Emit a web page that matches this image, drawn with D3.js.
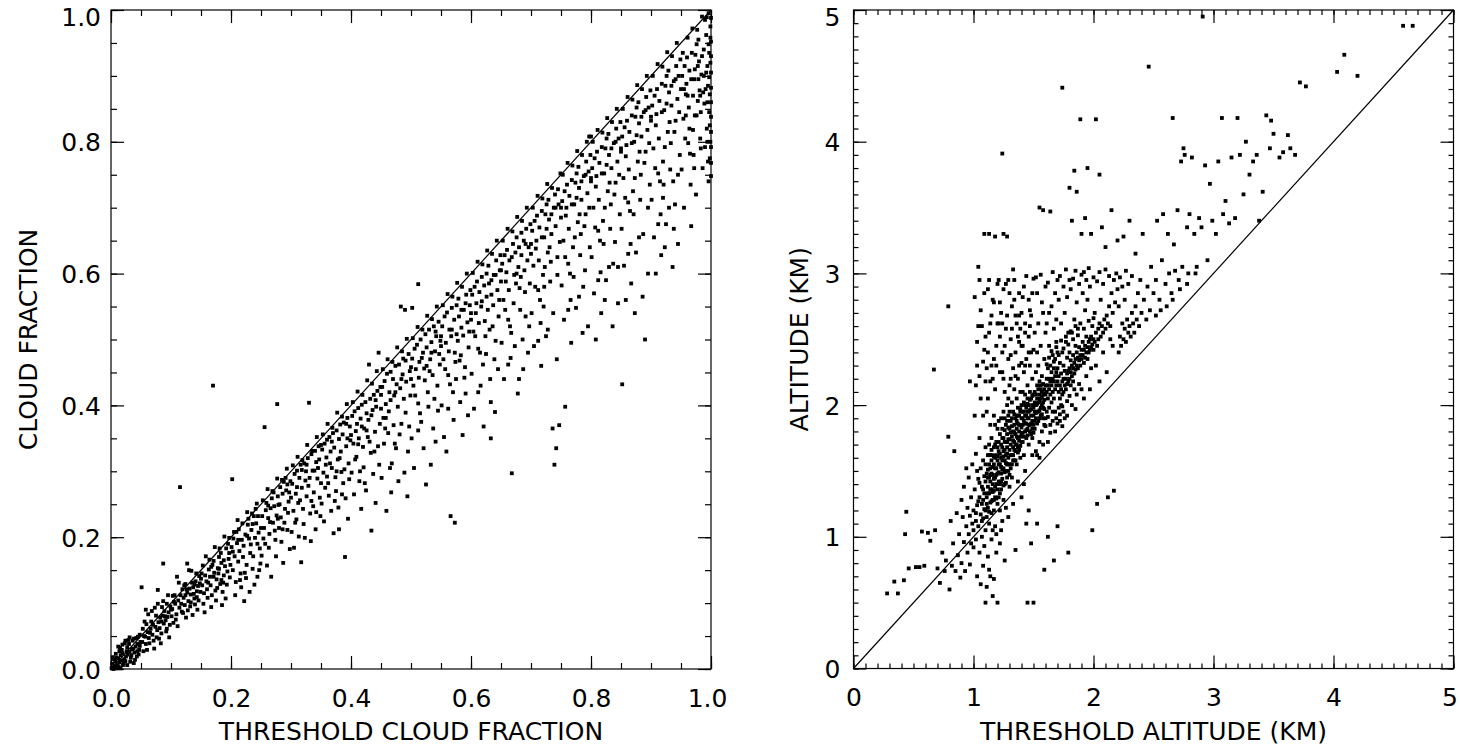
<!DOCTYPE html>
<html><head><meta charset="utf-8">
<script src="https://cdn.jsdelivr.net/npm/d3@7"></script>
<style>
body{margin:0;background:#fff}
svg{display:block}
text{font-family:"DejaVu Sans",sans-serif;fill:#000}
</style>
</head><body>
<svg id="chart" width="1460" height="749"></svg>
<script>
// ---------------- DATA ----------------
const leftTickValues = [0, 0.2, 0.4, 0.6, 0.8, 1.0];
const leftTickLabels = ["0.0", "0.2", "0.4", "0.6", "0.8", "1.0"];
const rightTickValues = [0, 1, 2, 3, 4, 5];
const rightTickLabels = ["0", "1", "2", "3", "4", "5"];
const leftXTitle = "THRESHOLD CLOUD FRACTION";
const leftYTitle = "CLOUD FRACTION";
const rightXTitle = "THRESHOLD ALTITUDE (KM)";
const rightYTitle = "ALTITUDE (KM)";

// left panel: [threshold cloud fraction, cloud fraction]
const leftPoints = [
[.003,.002],[.007,.011],[.004,.000],[.011,.006],[.009,.017],[.014,.010],[.002,.008],[.017,.013],[.013,.003],[.019,.024],[.006,.004],[.022,.015],[.016,.021],[.025,.019],[.012,.016],[.028,.022],[.021,.009],[.031,.026],[.018,.029],[.034,.021],[.027,.033],[.024,.012],[.037,.031],[.030,.038],[.033,.017],[.041,.034],[.036,.043],[.039,.025],[.044,.038],[.047,.029],[.042,.047],[.049,.041],[.046,.022],[.008,.023],[.015,.032],[.023,.039],[.029,.044],[.005,.015],[.010,.001],[.020,.006],[.026,.027],[.032,.011],[.038,.046],[.043,.019],[.048,.035],[.001,.001],[.014,.027],[.035,.030],[.040,.014],[.045,.049],[.003,.018],[.019,.037],[.027,.006],[.012,.034],[.024,.043],[.031,.048],[.016,.001],[.038,.009],[.044,.027],[.048,.052],
[.052,.041],[.057,.049],[.054,.027],[.061,.056],[.058,.038],[.063,.047],[.066,.061],[.059,.068],[.069,.052],[.071,.043],[.067,.072],[.074,.064],[.072,.031],[.077,.059],[.079,.071],[.076,.048],[.082,.078],[.081,.062],[.084,.054],[.086,.081],[.088,.069],[.083,.039],[.091,.074],[.089,.088],[.093,.061],[.096,.086],[.094,.079],[.098,.067],[.099,.095],[.097,.048],[.053,.061],[.056,.072],[.062,.083],[.068,.088],[.073,.093],[.078,.099],[.087,.103],[.095,.112],[.051,.124],[.064,.039],[.075,.081],[.085,.094],[.092,.057],[.055,.050],[.060,.029],[.070,.067],[.080,.046],[.090,.080],[.065,.055],[.087,.160],[.078,.120],[.093,.099],[.058,.090],[.084,.072],[.100,.090],
[.102,.091],[.104,.070],[.107,.099],[.103,.111],[.109,.083],[.112,.104],[.114,.093],[.111,.065],[.116,.112],[.118,.087],[.115,.276],[.121,.108],[.119,.121],[.123,.097],[.125,.078],[.127,.116],[.124,.129],[.129,.103],[.131,.122],[.128,.089],[.133,.113],[.135,.131],[.132,.095],[.137,.124],[.139,.107],[.136,.082],[.141,.133],[.143,.118],[.140,.098],[.145,.126],[.147,.141],[.144,.090],[.149,.117],[.146,.104],[.106,.112],[.113,.131],[.122,.127],[.134,.149],[.142,.145],[.148,.130],[.108,.075],[.117,.099],[.126,.121],[.138,.114],[.150,.137],[.105,.102],[.120,.085],[.130,.150],[.110,.140],[.127,.160],[.143,.109],[.101,.080],[.124,.112],[.139,.128],[.133,.101],
[.152,.127],[.154,.099],[.157,.142],[.155,.115],[.159,.133],[.161,.108],[.163,.151],[.160,.121],[.165,.140],[.167,.094],[.169,.158],[.166,.127],[.170,.430],[.172,.146],[.174,.119],[.171,.164],[.176,.136],[.178,.153],[.175,.104],[.180,.170],[.182,.129],[.179,.145],[.184,.161],[.186,.117],[.183,.176],[.188,.142],[.190,.156],[.187,.131],[.192,.183],[.194,.148],[.191,.107],[.196,.167],[.198,.139],[.195,.190],[.199,.158],[.153,.157],[.158,.171],[.164,.166],[.173,.185],[.181,.183],[.189,.201],[.197,.199],[.156,.086],[.168,.112],[.177,.123],[.185,.097],[.193,.128],[.162,.131],[.171,.140],[.180,.152],[.188,.165],[.197,.176],[.151,.145],[.167,.155],[.184,.135],
[.201,.185],[.203,.150],[.202,.288],[.206,.171],[.204,.198],[.208,.132],[.210,.191],[.212,.163],[.209,.208],[.214,.179],[.216,.145],[.213,.212],[.218,.196],[.220,.170],[.217,.124],[.222,.103],[.224,.204],[.221,.187],[.226,.158],[.228,.219],[.225,.138],[.230,.198],[.232,.176],[.229,.228],[.234,.211],[.236,.152],[.233,.189],[.238,.232],[.240,.199],[.237,.171],[.242,.221],[.244,.140],[.241,.243],[.246,.207],[.248,.183],[.245,.232],[.249,.160],[.205,.208],[.211,.226],[.219,.221],[.227,.238],[.235,.236],[.243,.251],[.207,.112],[.215,.135],[.223,.146],[.231,.117],[.239,.128],[.247,.150],[.203,.178],[.212,.196],[.227,.202],[.236,.220],[.244,.190],[.250,.214],
[.252,.232],[.254,.198],[.251,.172],[.256,.367],[.258,.241],[.255,.214],[.260,.157],[.262,.229],[.259,.252],[.264,.205],[.266,.244],[.263,.184],[.268,.259],[.270,.222],[.267,.140],[.272,.247],[.274,.196],[.271,.268],[.276,.233],[.277,.402],[.278,.262],[.275,.171],[.280,.214],[.282,.276],[.279,.249],[.284,.193],[.286,.266],[.283,.230],[.288,.284],[.290,.243],[.287,.161],[.292,.271],[.294,.211],[.291,.290],[.296,.254],[.298,.182],[.295,.237],[.299,.285],[.253,.256],[.261,.273],[.269,.270],[.277,.289],[.285,.287],[.293,.304],[.257,.190],[.265,.223],[.273,.210],[.281,.250],[.289,.222],[.297,.268],[.262,.248],[.278,.228],[.286,.212],[.294,.280],[.300,.260],
[.302,.281],[.304,.240],[.301,.208],[.306,.296],[.308,.266],[.305,.184],[.310,.301],[.312,.252],[.309,.227],[.314,.290],[.316,.310],[.313,.201],[.318,.275],[.320,.243],[.317,.162],[.322,.312],[.324,.286],[.321,.220],[.326,.262],[.328,.320],[.325,.300],[.330,.404],[.332,.236],[.329,.278],[.334,.326],[.336,.301],[.333,.194],[.338,.268],[.340,.331],[.337,.247],[.342,.314],[.344,.289],[.341,.212],[.346,.338],[.348,.260],[.345,.305],[.349,.232],[.303,.309],[.311,.322],[.319,.317],[.327,.340],[.335,.331],[.343,.352],[.307,.222],[.315,.256],[.323,.199],[.331,.290],[.339,.301],[.347,.318],[.350,.282],[.318,.302],[.334,.255],[.342,.238],[.326,.310],[.310,.276],
[.352,.333],[.354,.298],[.351,.251],[.356,.342],[.358,.310],[.355,.224],[.360,.348],[.362,.282],[.359,.321],[.364,.352],[.366,.330],[.363,.263],[.368,.305],[.370,.358],[.367,.240],[.372,.336],[.374,.291],[.371,.206],[.376,.362],[.378,.318],[.375,.270],[.380,.349],[.382,.371],[.379,.245],[.384,.299],[.386,.356],[.383,.330],[.388,.374],[.390,.170],[.387,.282],[.392,.338],[.394,.381],[.391,.259],[.396,.312],[.398,.368],[.395,.228],[.399,.347],[.353,.356],[.361,.372],[.369,.366],[.377,.389],[.385,.383],[.393,.402],[.357,.275],[.365,.312],[.373,.255],[.381,.320],[.389,.303],[.397,.288],[.360,.292],[.376,.300],[.385,.265],[.394,.350],[.368,.345],[.380,.212],[.350,.340],[.392,.372],
[.402,.384],[.404,.342],[.401,.298],[.406,.391],[.408,.361],[.405,.265],[.410,.372],[.412,.396],[.409,.322],[.414,.285],[.416,.380],[.413,.350],[.418,.401],[.420,.337],[.417,.243],[.422,.365],[.424,.405],[.421,.306],[.426,.388],[.428,.352],[.425,.271],[.430,.462],[.432,.410],[.429,.378],[.434,.210],[.436,.393],[.433,.328],[.438,.416],[.440,.360],[.437,.296],[.442,.398],[.444,.422],[.441,.252],[.446,.480],[.448,.372],[.445,.338],[.449,.428],[.403,.405],[.411,.421],[.419,.416],[.427,.438],[.435,.433],[.443,.452],[.407,.318],[.415,.300],[.423,.282],[.431,.345],[.439,.330],[.447,.310],[.400,.355],[.426,.362],[.418,.368],[.434,.385],[.441,.408],[.450,.395],[.412,.341],
[.452,.428],[.454,.381],[.451,.290],[.456,.437],[.458,.402],[.455,.342],[.460,.448],[.462,.358],[.459,.240],[.464,.420],[.466,.451],[.463,.391],[.468,.312],[.470,.440],[.467,.268],[.472,.415],[.474,.460],[.471,.370],[.476,.432],[.478,.398],[.475,.335],[.480,.462],[.482,.426],[.479,.285],[.483,.550],[.486,.447],[.484,.372],[.488,.410],[.490,.545],[.487,.471],[.492,.436],[.494,.262],[.491,.389],[.496,.478],[.498,.452],[.495,.330],[.499,.415],[.453,.455],[.461,.470],[.469,.466],[.477,.488],[.485,.482],[.493,.501],[.457,.365],[.465,.305],[.473,.342],[.481,.356],[.489,.298],[.497,.368],[.450,.416],[.474,.420],[.466,.408],[.484,.440],[.491,.468],[.500,.440],[.458,.381],[.502,.548],[.512,.584],
[.502,.471],[.504,.430],[.501,.350],[.506,.486],[.508,.455],[.505,.305],[.510,.492],[.512,.403],[.514,.466],[.516,.500],[.513,.442],[.520,.480],[.517,.375],[.522,.456],[.524,.508],[.521,.335],[.526,.488],[.528,.420],[.525,.280],[.530,.515],[.532,.470],[.529,.398],[.534,.496],[.536,.446],[.533,.310],[.538,.520],[.540,.482],[.537,.365],[.542,.505],[.544,.430],[.541,.345],[.546,.527],[.548,.462],[.545,.392],[.549,.498],[.503,.502],[.511,.519],[.519,.515],[.527,.536],[.535,.531],[.543,.550],[.507,.415],[.515,.388],[.523,.438],[.531,.452],[.539,.410],[.547,.478],[.500,.458],[.526,.460],[.518,.472],[.534,.480],[.541,.512],[.550,.505],[.512,.362],
[.552,.520],[.554,.470],[.551,.400],[.556,.535],[.558,.495],[.555,.352],[.560,.541],[.562,.446],[.559,.330],[.564,.515],[.566,.232],[.563,.482],[.568,.548],[.570,.420],[.567,.505],[.572,.530],[.574,.466],[.571,.378],[.573,.222],[.576,.552],[.578,.498],[.575,.440],[.580,.535],[.582,.405],[.579,.562],[.584,.518],[.586,.355],[.583,.476],[.588,.545],[.590,.458],[.587,.506],[.592,.568],[.594,.526],[.591,.418],[.596,.488],[.598,.552],[.595,.385],[.599,.575],[.553,.552],[.561,.569],[.569,.565],[.577,.586],[.585,.580],[.593,.600],[.557,.455],[.565,.432],[.573,.480],[.581,.468],[.589,.442],[.597,.512],[.550,.490],[.576,.508],[.568,.515],[.584,.545],[.591,.555],[.600,.540],[.562,.395],
[.602,.568],[.604,.512],[.601,.448],[.606,.580],[.608,.540],[.605,.395],[.610,.588],[.612,.486],[.609,.555],[.614,.572],[.616,.430],[.613,.525],[.618,.595],[.620,.462],[.617,.550],[.622,.582],[.624,.505],[.621,.368],[.626,.600],[.628,.545],[.625,.478],[.630,.585],[.632,.440],[.629,.612],[.634,.568],[.636,.520],[.633,.405],[.638,.598],[.640,.390],[.637,.552],[.642,.620],[.644,.575],[.641,.498],[.646,.535],[.648,.605],[.645,.455],[.649,.628],[.603,.601],[.611,.618],[.619,.614],[.627,.635],[.635,.630],[.643,.650],[.607,.505],[.615,.480],[.623,.528],[.631,.515],[.639,.470],[.647,.560],[.600,.530],[.626,.565],[.618,.558],[.634,.590],[.641,.598],[.650,.588],[.612,.420],[.633,.350],
[.652,.615],[.654,.560],[.651,.495],[.656,.628],[.658,.588],[.655,.440],[.660,.636],[.662,.530],[.659,.602],[.664,.620],[.666,.472],[.663,.575],[.668,.297],[.670,.645],[.667,.510],[.672,.598],[.674,.632],[.671,.555],[.676,.655],[.678,.418],[.675,.585],[.680,.640],[.682,.545],[.679,.610],[.684,.662],[.686,.500],[.683,.595],[.688,.650],[.690,.572],[.687,.455],[.692,.668],[.694,.620],[.691,.535],[.696,.640],[.698,.585],[.695,.480],[.699,.675],[.653,.650],[.661,.668],[.669,.664],[.677,.686],[.685,.680],[.693,.700],[.657,.545],[.665,.520],[.673,.490],[.681,.578],[.689,.605],[.697,.520],[.650,.605],[.676,.600],[.668,.625],[.684,.628],[.691,.645],[.700,.630],[.662,.462],[.680,.440],
[.702,.665],[.704,.612],[.701,.540],[.706,.680],[.708,.638],[.705,.490],[.710,.688],[.712,.575],[.709,.650],[.714,.670],[.716,.525],[.713,.620],[.718,.695],[.720,.598],[.717,.460],[.722,.655],[.724,.690],[.721,.550],[.726,.705],[.728,.632],[.725,.505],[.730,.682],[.732,.588],[.729,.712],[.734,.660],[.736,.365],[.733,.618],[.738,.700],[.739,.310],[.737,.540],[.742,.335],[.740,.720],[.741,.672],[.744,.598],[.746,.705],[.743,.470],[.747,.370],[.748,.648],[.745,.728],[.703,.700],[.711,.718],[.719,.714],[.727,.736],[.735,.730],[.749,.752],[.707,.580],[.715,.560],[.723,.610],[.731,.640],[.744,.625],[.700,.645],[.726,.668],[.718,.655],[.734,.690],[.741,.700],[.750,.685],[.712,.498],[.728,.515],[.757,.398],[.722,.580],
[.752,.710],[.754,.650],[.751,.582],[.756,.725],[.758,.688],[.755,.530],[.760,.735],[.762,.615],[.759,.700],[.764,.718],[.766,.560],[.763,.668],[.768,.742],[.770,.640],[.767,.495],[.772,.705],[.774,.738],[.771,.595],[.776,.752],[.778,.678],[.775,.548],[.780,.730],[.782,.628],[.779,.762],[.784,.712],[.786,.510],[.783,.660],[.788,.748],[.790,.605],[.787,.580],[.792,.770],[.794,.722],[.791,.690],[.796,.755],[.798,.640],[.795,.520],[.799,.780],[.753,.750],[.761,.768],[.769,.764],[.777,.786],[.785,.780],[.793,.800],[.757,.625],[.765,.600],[.773,.655],[.781,.690],[.789,.672],[.797,.700],[.750,.700],[.776,.715],[.768,.705],[.784,.740],[.791,.750],[.800,.740],[.762,.545],[.780,.565],[.800,.808],[.797,.808],
[.802,.760],[.804,.700],[.801,.625],[.806,.775],[.808,.732],[.805,.570],[.810,.785],[.812,.665],[.809,.748],[.814,.768],[.816,.602],[.813,.712],[.818,.792],[.820,.680],[.817,.540],[.822,.752],[.824,.790],[.821,.645],[.826,.805],[.828,.725],[.825,.590],[.830,.780],[.832,.668],[.829,.812],[.834,.760],[.836,.520],[.833,.705],[.838,.798],[.840,.648],[.837,.615],[.842,.820],[.844,.770],[.841,.738],[.846,.805],[.848,.690],[.845,.555],[.849,.830],[.803,.800],[.811,.818],[.819,.814],[.827,.836],[.835,.830],[.843,.850],[.807,.670],[.815,.650],[.823,.700],[.831,.738],[.839,.720],[.847,.750],[.800,.745],[.826,.765],[.818,.752],[.834,.790],[.841,.800],[.850,.785],[.812,.590],[.830,.610],[.852,.432],[.823,.560],[.845,.610],[.808,.500],
[.852,.808],[.854,.745],[.851,.668],[.856,.822],[.858,.778],[.855,.612],[.860,.832],[.862,.708],[.859,.795],[.864,.815],[.866,.645],[.863,.758],[.868,.840],[.870,.725],[.867,.585],[.872,.800],[.874,.838],[.871,.690],[.876,.852],[.878,.770],[.875,.632],[.880,.828],[.882,.712],[.879,.860],[.884,.808],[.886,.565],[.883,.750],[.888,.845],[.890,.500],[.887,.660],[.892,.868],[.894,.818],[.891,.785],[.896,.852],[.898,.735],[.895,.600],[.899,.878],[.853,.850],[.861,.868],[.869,.864],[.877,.886],[.885,.880],[.893,.900],[.857,.715],[.865,.695],[.873,.745],[.881,.785],[.889,.768],[.897,.798],[.850,.790],[.876,.810],[.868,.798],[.884,.838],[.891,.848],[.900,.832],[.862,.630],[.880,.655],[.873,.540],[.895,.700],[.858,.560],
[.902,.855],[.904,.790],[.901,.712],[.906,.870],[.908,.825],[.905,.655],[.910,.880],[.912,.752],[.909,.842],[.914,.862],[.916,.690],[.913,.805],[.918,.888],[.920,.770],[.917,.628],[.922,.848],[.924,.885],[.921,.735],[.926,.900],[.928,.815],[.925,.675],[.930,.875],[.932,.758],[.929,.908],[.934,.855],[.936,.610],[.933,.798],[.938,.892],[.940,.705],[.937,.740],[.942,.915],[.944,.865],[.941,.832],[.946,.900],[.948,.780],[.945,.645],[.949,.925],[.903,.900],[.911,.918],[.919,.914],[.927,.936],[.935,.930],[.943,.950],[.907,.760],[.915,.740],[.923,.792],[.931,.830],[.939,.815],[.947,.845],[.900,.838],[.926,.858],[.918,.845],[.934,.885],[.941,.895],[.950,.880],[.912,.675],[.930,.700],[.923,.640],[.945,.750],[.908,.600],[.938,.668],[.920,.715],
[.952,.900],[.954,.835],[.951,.758],[.956,.915],[.958,.872],[.955,.700],[.960,.928],[.962,.798],[.959,.888],[.964,.908],[.966,.735],[.963,.852],[.968,.935],[.970,.818],[.967,.672],[.972,.895],[.974,.932],[.971,.780],[.976,.948],[.978,.862],[.975,.720],[.980,.922],[.982,.805],[.979,.955],[.984,.902],[.986,.760],[.983,.845],[.988,.940],[.990,.792],[.987,.875],[.992,.962],[.994,.915],[.991,.880],[.996,.948],[.998,.825],[.995,.770],[.999,.975],[.953,.935],[.961,.958],[.969,.972],[.977,.970],[.985,.990],[.993,.989],[.957,.805],[.965,.782],[.973,.840],[.981,.878],[.989,.858],[.997,.898],[1.0,.988],[1.0,.952],[1.0,.930],[1.0,.905],[1.0,.882],[1.0,.860],[1.0,.838],[1.0,.815],[1.0,.792],[1.0,.768],[1.0,.748],[.999,.920],[.998,.872],[.997,.845],[.999,.800],[.998,.775],[.996,.995],[.994,.860],[.993,.820],[.997,.935],[.995,.885],[.992,.905],[.999,.958],[.996,.740],[.990,.985],[.988,.900],[.985,.930],[.982,.870],[.979,.895],[.976,.840],[.973,.910],[.970,.870],[.967,.895],[.964,.820],[.961,.870],[.958,.840],[.955,.880],[.972,.760],[.983,.790],[.994,.800],[.978,.915]
];

// right panel: [threshold altitude km, altitude km]
const rightPoints = [
[0.28,0.57],[0.34,0.66],[0.37,0.57],[0.42,0.67],[0.44,1.19],[0.43,1.02],[0.52,0.77],[0.55,0.77],[0.59,0.78],[0.46,0.76],[0.57,1.04],[0.62,1.03],
[0.64,0.97],[0.67,2.27],[0.68,1.05],[0.70,0.76],[0.72,0.65],[0.74,0.88],[0.76,0.74],[0.77,0.82],[0.79,2.75],[0.79,1.76],[0.80,0.60],[0.81,1.12],[0.82,0.78],[0.83,0.95],[0.84,1.65],[0.85,0.74],[0.86,1.18],[0.87,0.86],[0.88,1.02],[0.89,0.69],[0.90,1.28],
[0.90,0.80],[0.91,1.15],[0.92,0.96],[0.92,1.38],[0.93,0.74],[0.94,1.08],[0.95,1.22],[0.95,0.88],[0.96,1.45],[0.96,1.02],[0.97,1.16],[0.97,0.79],[0.98,1.30],[0.98,0.95],[0.99,1.10],[0.99,1.55],[1.00,0.92],[1.00,1.20],[0.94,1.52],[0.97,2.18],
[1.00,1.05],[1.01,1.36],[1.01,2.82],[1.02,1.12],[1.02,0.98],[1.02,1.63],[1.03,1.24],[1.03,0.70],[1.03,2.30],[1.04,1.44],[1.04,1.08],[1.04,3.05],[1.05,1.30],[1.05,0.88],[1.05,1.75],[1.06,1.17],[1.06,1.52],[1.06,2.05],[1.07,1.38],[1.07,1.00],[1.07,2.60],[1.07,1.25],[1.08,1.58],[1.08,1.14],[1.08,0.78],[1.08,1.92],[1.09,1.33],[1.09,1.46],[1.09,2.42],[1.10,1.20],[1.10,1.68],[1.10,0.50],[1.10,1.05],[1.10,2.18],[1.01,1.92],[1.04,2.60],[1.06,0.64],[1.09,0.93],[1.03,1.50],[1.05,2.95],[1.08,1.28],[1.02,2.15],[1.10,1.55],[1.09,3.30],
[1.11,1.30],[1.11,1.48],[1.11,1.15],[1.11,0.62],[1.12,1.38],[1.12,1.62],[1.12,1.22],[1.12,2.05],[1.12,0.85],[1.13,1.45],[1.13,1.10],[1.13,1.70],[1.13,3.30],[1.13,1.33],[1.13,2.55],[1.14,1.52],[1.14,1.26],[1.14,1.85],[1.14,0.70],[1.14,1.42],[1.15,1.58],[1.15,1.18],[1.15,1.36],[1.15,2.30],[1.15,0.98],[1.15,1.75],[1.16,1.47],[1.16,1.28],[1.16,1.62],[1.16,2.80],[1.16,0.55],[1.17,1.55],[1.17,1.35],[1.17,1.92],[1.17,1.20],[1.17,1.68],[1.18,1.45],[1.18,1.60],[1.18,1.08],[1.18,2.12],[1.18,3.28],[1.18,1.30],[1.19,1.52],[1.19,1.72],[1.19,1.40],[1.19,2.45],[1.19,0.88],[1.20,1.58],[1.20,1.25],[1.20,1.82],[1.20,0.50],[1.20,1.48],[1.20,2.62],[1.11,1.95],[1.12,2.88],[1.14,2.18],[1.16,1.05],[1.17,2.35],[1.19,1.02],[1.13,1.55],[1.15,1.48],[1.16,1.40],[1.18,1.70],[1.19,1.62],[1.12,1.45],[1.14,1.62],[1.17,1.28],[1.18,1.85],[1.20,1.68],[1.11,2.28],[1.13,0.75],[1.15,2.68],[1.17,0.68],
[1.21,1.42],[1.21,1.65],[1.21,1.30],[1.21,2.95],[1.22,1.55],[1.22,1.78],[1.22,1.20],[1.22,2.25],[1.22,0.95],[1.23,1.48],[1.23,1.70],[1.23,1.36],[1.23,2.70],[1.23,1.90],[1.24,3.91],[1.24,1.58],[1.24,1.82],[1.24,1.44],[1.24,2.40],[1.24,1.12],[1.25,1.65],[1.25,1.52],[1.25,1.95],[1.25,3.30],[1.25,1.28],[1.26,1.72],[1.26,1.58],[1.26,2.10],[1.26,1.40],[1.26,0.82],[1.27,1.62],[1.27,1.85],[1.27,1.50],[1.27,2.58],[1.27,1.22],[1.28,1.68],[1.28,1.78],[1.28,2.00],[1.28,3.28],[1.28,1.45],[1.29,1.60],[1.29,1.92],[1.29,1.74],[1.29,2.35],[1.29,1.15],[1.30,1.66],[1.30,1.82],[1.30,1.55],[1.30,2.85],[1.30,2.15],[1.21,1.88],[1.22,2.52],[1.23,1.05],[1.24,1.68],[1.25,2.20],[1.26,1.90],[1.27,1.72],[1.28,1.55],[1.29,2.05],[1.30,1.38],[1.21,1.55],[1.23,1.60],[1.25,1.75],[1.26,1.66],[1.28,1.88],[1.29,1.50],[1.30,1.95],[1.22,1.40],[1.24,2.62],[1.27,2.92],
[1.31,1.70],[1.31,1.88],[1.31,1.52],[1.31,2.50],[1.32,1.76],[1.32,1.62],[1.32,2.02],[1.32,1.45],[1.32,2.75],[1.33,1.80],[1.33,1.68],[1.33,1.95],[1.33,1.25],[1.33,2.28],[1.34,1.72],[1.34,1.85],[1.34,1.58],[1.34,2.12],[1.34,2.95],[1.35,1.78],[1.35,1.90],[1.35,1.65],[1.35,2.40],[1.35,0.90],[1.36,1.82],[1.36,1.70],[1.36,2.05],[1.36,1.55],[1.36,2.62],[1.37,1.86],[1.37,1.75],[1.37,1.98],[1.37,2.20],[1.37,1.42],[1.38,1.80],[1.38,1.92],[1.38,1.66],[1.38,2.48],[1.38,2.85],[1.39,1.85],[1.39,1.76],[1.39,2.10],[1.39,1.60],[1.40,1.90],[1.40,1.78],[1.40,2.00],[1.40,2.32],[1.40,1.30],[1.31,2.20],[1.33,1.58],[1.35,2.68],[1.36,1.92],[1.38,2.30],[1.39,1.95],[1.32,1.90],[1.34,1.66],[1.37,1.68],[1.40,2.70],[1.33,3.03],[1.39,2.58],
[1.41,1.85],[1.41,1.95],[1.41,1.72],[1.41,2.45],[1.42,1.88],[1.42,2.02],[1.42,1.62],[1.42,2.25],[1.42,2.90],[1.43,1.92],[1.43,1.80],[1.43,2.08],[1.43,1.50],[1.43,2.62],[1.44,1.86],[1.44,1.98],[1.44,1.75],[1.44,2.35],[1.44,1.10],[1.45,1.95],[1.45,2.05],[1.45,1.82],[1.45,2.15],[1.45,0.50],[1.46,1.90],[1.46,2.00],[1.46,1.70],[1.46,2.52],[1.46,2.80],[1.47,1.96],[1.47,1.85],[1.47,2.10],[1.47,2.30],[1.48,1.92],[1.48,2.05],[1.48,1.78],[1.48,2.68],[1.48,0.95],[1.49,2.00],[1.49,1.88],[1.49,2.20],[1.49,1.62],[1.50,1.98],[1.50,2.08],[1.50,1.85],[1.50,0.50],[1.50,2.42],[1.50,2.96],[1.41,2.10],[1.43,2.30],[1.45,1.90],[1.47,2.72],[1.49,1.75],[1.42,1.40],[1.46,1.20],[1.48,2.40],
[1.51,1.95],[1.51,2.10],[1.51,1.82],[1.51,2.55],[1.52,2.00],[1.52,1.90],[1.52,2.25],[1.52,1.65],[1.53,2.05],[1.53,1.95],[1.53,2.15],[1.53,2.85],[1.53,1.10],[1.54,2.02],[1.54,1.88],[1.54,2.30],[1.54,2.62],[1.55,2.08],[1.55,1.96],[1.55,2.18],[1.55,3.50],[1.55,1.72],[1.56,2.05],[1.56,2.12],[1.56,1.92],[1.56,2.45],[1.56,2.99],[1.57,2.10],[1.57,2.00],[1.57,2.22],[1.57,1.80],[1.58,2.08],[1.58,2.16],[1.58,1.98],[1.58,2.70],[1.58,3.48],[1.59,2.12],[1.59,2.04],[1.59,2.35],[1.59,0.75],[1.60,2.15],[1.60,2.08],[1.60,1.90],[1.60,2.55],[1.60,2.90],[1.53,2.40],[1.55,1.60],[1.57,2.78],[1.59,1.85],[1.52,2.97],
[1.61,2.10],[1.61,2.20],[1.61,1.95],[1.61,2.62],[1.62,2.15],[1.62,2.05],[1.62,2.28],[1.62,2.93],[1.62,1.00],[1.63,2.12],[1.63,2.20],[1.63,1.98],[1.63,2.45],[1.64,2.18],[1.64,2.08],[1.64,2.30],[1.64,3.47],[1.64,1.85],[1.65,2.15],[1.65,2.25],[1.65,2.02],[1.65,2.75],[1.66,2.20],[1.66,2.10],[1.66,2.38],[1.66,3.01],[1.67,2.18],[1.67,2.28],[1.67,2.05],[1.67,2.58],[1.67,0.82],[1.68,2.22],[1.68,2.12],[1.68,2.35],[1.68,2.85],[1.69,2.25],[1.69,2.15],[1.69,2.48],[1.69,1.90],[1.70,2.28],[1.70,2.18],[1.70,2.40],[1.70,2.95],[1.70,1.08],[1.63,2.70],[1.66,1.95],[1.69,2.65],
[1.71,2.10],[1.71,2.22],[1.71,1.98],[1.71,2.80],[1.72,2.15],[1.72,2.05],[1.72,2.32],[1.72,2.98],[1.73,2.12],[1.73,2.24],[1.73,2.00],[1.73,2.62],[1.74,2.18],[1.74,2.08],[1.74,2.40],[1.74,4.41],[1.75,2.20],[1.75,2.10],[1.75,2.30],[1.75,2.90],[1.75,1.95],[1.76,2.15],[1.76,2.26],[1.76,2.70],[1.77,2.20],[1.77,2.12],[1.77,2.48],[1.77,3.03],[1.78,2.24],[1.78,2.16],[1.78,2.36],[1.78,2.82],[1.79,2.26],[1.79,2.18],[1.79,2.55],[1.79,0.88],[1.80,2.28],[1.80,2.20],[1.80,2.40],[1.80,2.95],[1.80,3.65],[1.72,1.88],
[1.81,2.25],[1.81,2.34],[1.81,2.15],[1.81,2.88],[1.82,2.30],[1.82,2.22],[1.82,2.55],[1.82,3.40],[1.83,2.28],[1.83,2.38],[1.83,2.18],[1.83,2.96],[1.84,2.32],[1.84,2.24],[1.84,2.65],[1.84,3.78],[1.85,2.35],[1.85,2.27],[1.85,2.45],[1.85,3.02],[1.86,2.30],[1.86,2.40],[1.86,2.78],[1.86,3.62],[1.87,2.36],[1.87,2.28],[1.87,2.58],[1.88,2.34],[1.88,2.44],[1.88,2.92],[1.89,4.17],[1.89,2.38],[1.89,2.30],[1.90,2.42],[1.90,2.35],[1.90,2.99],[1.90,3.30],
[1.91,2.38],[1.91,2.48],[1.91,2.85],[1.92,2.42],[1.92,2.32],[1.92,3.01],[1.93,2.45],[1.93,2.36],[1.93,2.72],[1.93,3.42],[1.94,2.40],[1.94,2.52],[1.94,2.95],[1.95,2.44],[1.95,2.35],[1.95,2.80],[1.95,3.80],[1.96,2.48],[1.96,2.40],[1.96,3.04],[1.97,2.50],[1.97,2.42],[1.97,2.90],[1.98,2.52],[1.98,2.44],[1.98,3.30],[1.99,2.46],[1.99,2.60],[1.99,1.05],[2.00,2.50],[2.00,2.42],[2.00,2.97],
[2.01,2.48],[2.01,2.70],[2.02,4.17],[2.02,2.55],[2.03,2.45],[2.03,2.94],[2.03,1.25],[2.04,2.58],[2.04,2.50],[2.05,3.75],[2.05,2.62],[2.05,3.01],[2.06,2.52],[2.06,2.80],[2.07,2.60],[2.07,3.35],[2.08,2.55],[2.08,2.92],[2.09,2.65],[2.10,2.58],[2.10,3.03],[2.10,3.20],[2.11,2.68],[2.12,2.62],[2.12,1.30],[2.13,2.75],[2.13,2.98],[2.14,2.60],[2.15,2.85],[2.15,3.48],[2.16,2.70],[2.17,2.95],[2.17,1.35],[2.18,2.78],[2.19,3.00],[2.20,2.88],[2.20,3.25],[2.16,2.45],[2.08,2.40],[2.14,2.50],
[2.21,2.40],[2.21,2.75],[2.22,2.52],[2.22,2.97],[2.23,2.45],[2.24,2.62],[2.24,2.90],[2.25,2.50],[2.25,3.28],[2.26,2.58],[2.26,2.80],[2.27,2.48],[2.27,3.02],[2.28,2.65],[2.29,2.55],[2.29,2.92],[2.30,2.60],[2.30,3.40],[2.31,2.52],[2.32,2.70],[2.32,2.98],[2.33,2.62],[2.34,2.55],[2.35,2.75],[2.35,3.15],[2.36,2.65],[2.37,2.85],[2.38,2.60],[2.39,2.95],[2.40,2.70],[2.41,3.30],[2.42,2.80],[2.44,2.65],[2.45,2.90],[2.46,4.57],[2.47,2.72],[2.48,3.05],[2.50,2.85],
[2.52,2.95],[2.53,3.40],[2.55,2.80],[2.57,3.10],[2.58,3.45],[2.60,2.92],[2.62,3.30],[2.63,3.00],[2.65,2.85],[2.66,4.18],[2.67,3.22],[2.68,3.02],[2.70,3.48],[2.71,2.95],[2.73,3.85],[2.74,3.05],[2.75,3.95],[2.76,3.90],[2.78,3.35],[2.79,3.00],[2.80,3.45],[2.82,3.88],[2.84,3.30],[2.86,3.05],[2.88,3.42],[2.90,3.35],[2.91,4.95],[2.93,3.82],[2.95,3.10],[2.97,3.68],[2.99,3.40],
[2.52,2.68],[2.56,2.72],[2.61,2.75],[2.66,2.80],[2.72,2.88],[2.78,2.92],[2.85,3.00],
[3.02,3.30],[3.04,3.85],[3.07,4.18],[3.08,3.45],[3.10,3.55],[3.13,3.38],[3.15,3.88],[3.18,3.42],[3.20,4.18],[3.22,3.90],[3.25,3.60],[3.27,4.00],[3.30,3.75],[3.33,3.85],[3.36,3.90],[3.38,3.40],[3.41,3.62],[3.44,4.20],[3.47,3.95],[3.50,4.06],[3.48,4.16],
[3.55,3.88],[3.58,3.92],[3.62,4.05],[3.64,3.95],[3.68,3.90],[3.72,4.45],[3.77,4.42],
[4.03,4.53],[4.09,4.66],[4.20,4.50],[4.58,4.88],[4.66,4.88],
[1.02,1.18],[1.04,1.27],[1.05,1.41],[1.07,1.12],[1.08,1.36],[1.09,1.21],[1.10,1.42],[1.11,1.25],[1.12,1.51],[1.12,1.33],[1.13,1.19],[1.13,1.62],[1.14,1.36],[1.14,1.47],[1.15,1.27],[1.15,1.66],[1.16,1.53],[1.16,1.34],[1.17,1.44],[1.17,1.61],[1.18,1.38],[1.18,1.52],[1.19,1.29],[1.19,1.47],[1.20,1.36],[1.20,1.61],[1.21,1.49],[1.21,1.72],[1.22,1.33],[1.22,1.63],[1.23,1.53],[1.23,1.42],[1.24,1.75],[1.24,1.51],[1.25,1.39],[1.25,1.61],[1.26,1.49],[1.26,1.81],[1.27,1.56],[1.27,1.41],[1.28,1.63],[1.28,1.72],[1.29,1.55],[1.29,1.83],[1.30,1.47],[1.30,1.74],[1.31,1.62],[1.31,1.79],[1.32,1.55],[1.32,1.84],[1.33,1.73],[1.33,1.62],[1.34,1.79],[1.34,1.93],[1.35,1.70],[1.35,1.58],[1.36,1.88],[1.36,1.76],[1.37,1.64],[1.37,1.92],[1.38,1.73],[1.38,1.85],[1.39,1.69],[1.39,1.97],[1.40,1.83],[1.40,1.72],[1.41,1.79],[1.41,1.90],[1.42,1.95],[1.42,1.76],[1.43,1.86],[1.43,2.00],[1.44,1.81],[1.44,1.92],[1.45,1.77],[1.45,2.01],[1.46,1.85],[1.46,1.95],[1.47,1.80],[1.47,2.04],[1.48,1.86],[1.48,1.97],[1.49,1.82],[1.49,2.07],[1.50,1.92],[1.50,1.79],[1.51,2.02],[1.51,1.88],[1.52,2.08],[1.52,1.94],[1.53,1.86],[1.53,2.01],[1.54,2.12],[1.54,1.95],[1.55,1.90],[1.55,2.03],[1.56,1.98],[1.56,2.15],[1.57,1.93],[1.57,2.06],[1.58,2.02],[1.58,1.90],[1.59,2.09],[1.59,1.97],
[1.60,1.84],[1.61,2.31],[1.62,1.91],[1.63,2.36],[1.64,1.79],[1.65,2.41],[1.66,1.88],[1.67,2.33],[1.68,1.95],[1.69,2.44],[1.70,1.86],[1.71,2.38],[1.72,1.93],[1.73,2.49],[1.74,1.99],[1.75,2.43],[1.76,1.90],[1.77,2.52],[1.78,2.03],[1.79,2.46],[1.80,2.07],[1.81,2.56],[1.82,2.00],[1.83,2.50],[1.84,2.12],[1.85,2.60],[1.86,2.08],[1.87,2.53],[1.88,2.16],[1.89,2.62],[1.90,2.12],[1.92,2.58],[1.94,2.22],[1.96,2.64],[1.98,2.28],[2.00,2.66],[2.02,2.30],
[1.03,2.48],[1.05,2.22],[1.06,2.72],[1.08,2.33],[1.09,2.85],[1.10,2.52],[1.12,2.40],[1.13,2.95],[1.14,2.62],[1.16,2.20],[1.17,2.78],[1.19,2.30],[1.20,2.92],[1.21,2.62],[1.22,2.78],[1.24,2.25],[1.25,2.88],[1.26,2.45],[1.28,2.68],[1.29,2.95],[1.31,2.38],[1.32,2.58],[1.34,2.80],[1.35,2.22],[1.37,2.52],[1.38,2.68],[1.40,2.45],[1.41,2.82],[1.43,2.55],[1.44,2.98],[1.46,2.40],[1.47,2.60],[1.49,2.85],
[1.53,1.62],[1.58,1.70],[1.62,1.72],[1.68,1.80],[1.74,1.84],[1.78,1.92],[1.85,1.97],[1.92,2.05],[1.97,2.12],[2.05,2.18],[2.11,2.25]
];

// ---------------- DRAWING ----------------
const svg = d3.select("#chart");
const FONT = 25;
const MARK = 3.8;

function drawPanel(o) {
  const x = d3.scaleLinear().domain(o.domain).range([o.left, o.right]);
  const y = d3.scaleLinear().domain(o.domain).range([o.bottom, o.top]);
  const g = svg.append("g");

  // points
  g.append("g").selectAll("rect").data(o.points).join("rect")
    .attr("x", d => x(d[0]) - MARK / 2)
    .attr("y", d => y(d[1]) - MARK / 2)
    .attr("width", MARK).attr("height", MARK)
    .attr("fill", "#000");

  // 1:1 line
  g.append("path")
    .attr("d", d3.line().x(d => x(d)).y(d => y(d))(o.domain))
    .attr("fill", "none").attr("stroke", "#000").attr("stroke-width", 1.2);

  const minor = d3.range(o.domain[0], o.domain[1] + o.minorStep / 2, o.minorStep);
  const style = sel => {
    sel.select(".domain").remove();
    sel.selectAll(".tick line").attr("stroke", "#000").attr("stroke-width", 1.2);
    sel.attr("font-size", FONT).attr("font-family", "DejaVu Sans, sans-serif");
    sel.selectAll("text").attr("fill", "#000");
  };
  const makers = [
    () => d3.axisBottom(x), () => d3.axisTop(x), () => d3.axisLeft(y), () => d3.axisRight(y)
  ];
  const trans = [
    "translate(0," + o.bottom + ")", "translate(0," + o.top + ")",
    "translate(" + o.left + ",0)", "translate(" + o.right + ",0)"
  ];
  makers.forEach((mk, k) => {
    // minor ticks
    g.append("g").attr("transform", trans[k])
      .call(mk().tickValues(minor).tickSize(-o.minorLen).tickSizeOuter(0).tickFormat(""))
      .call(style);
    // major ticks
    const lab = (k === 0 || k === 2);
    const a = mk().tickValues(o.ticks).tickSize(-o.majorLen).tickSizeOuter(0)
      .tickPadding(k === 0 ? 20 : o.yPad)
      .tickFormat(lab ? (d, i) => o.labels[i] : "");
    const ag = g.append("g").attr("transform", trans[k]).call(a).call(style);
    if (k === 2) {
      ag.selectAll("text").attr("dy", (d, i, n) => i === n.length - 1 ? "0.62em" : "0.36em");
    }
    if (k === 0) {
      ag.selectAll("text").attr("dx", (d, i, n) => i === n.length - 1 ? -4 : 0);
    }
  });

  // frame
  g.append("rect")
    .attr("x", o.left).attr("y", o.top)
    .attr("width", o.right - o.left).attr("height", o.bottom - o.top)
    .attr("fill", "none").attr("stroke", "#000").attr("stroke-width", 1.2);

  // titles
  g.append("text")
    .attr("x", (o.left + o.right) / 2).attr("y", o.xTitleY)
    .attr("text-anchor", "middle").attr("font-size", FONT)
    .text(o.xTitle);
  g.append("text")
    .attr("transform", "translate(" + o.yTitleX + "," + ((o.top + o.bottom) / 2) + ") rotate(-90)")
    .attr("text-anchor", "middle").attr("font-size", FONT)
    .text(o.yTitle);
}

drawPanel({
  domain: [0, 1], ticks: leftTickValues, labels: leftTickLabels, minorStep: 0.05,
  majorLen: 13, minorLen: 6, yPad: 10,
  left: 111, right: 711, top: 10, bottom: 669,
  points: leftPoints, xTitle: leftXTitle, yTitle: leftYTitle,
  xTitleY: 740, yTitleX: 37
});
drawPanel({
  domain: [0, 5], ticks: rightTickValues, labels: rightTickLabels, minorStep: 0.1,
  majorLen: 13, minorLen: 5, yPad: 13,
  left: 853.5, right: 1453.5, top: 10, bottom: 668.5,
  points: rightPoints, xTitle: rightXTitle, yTitle: rightYTitle,
  xTitleY: 740, yTitleX: 808
});
</script>
</body></html>
